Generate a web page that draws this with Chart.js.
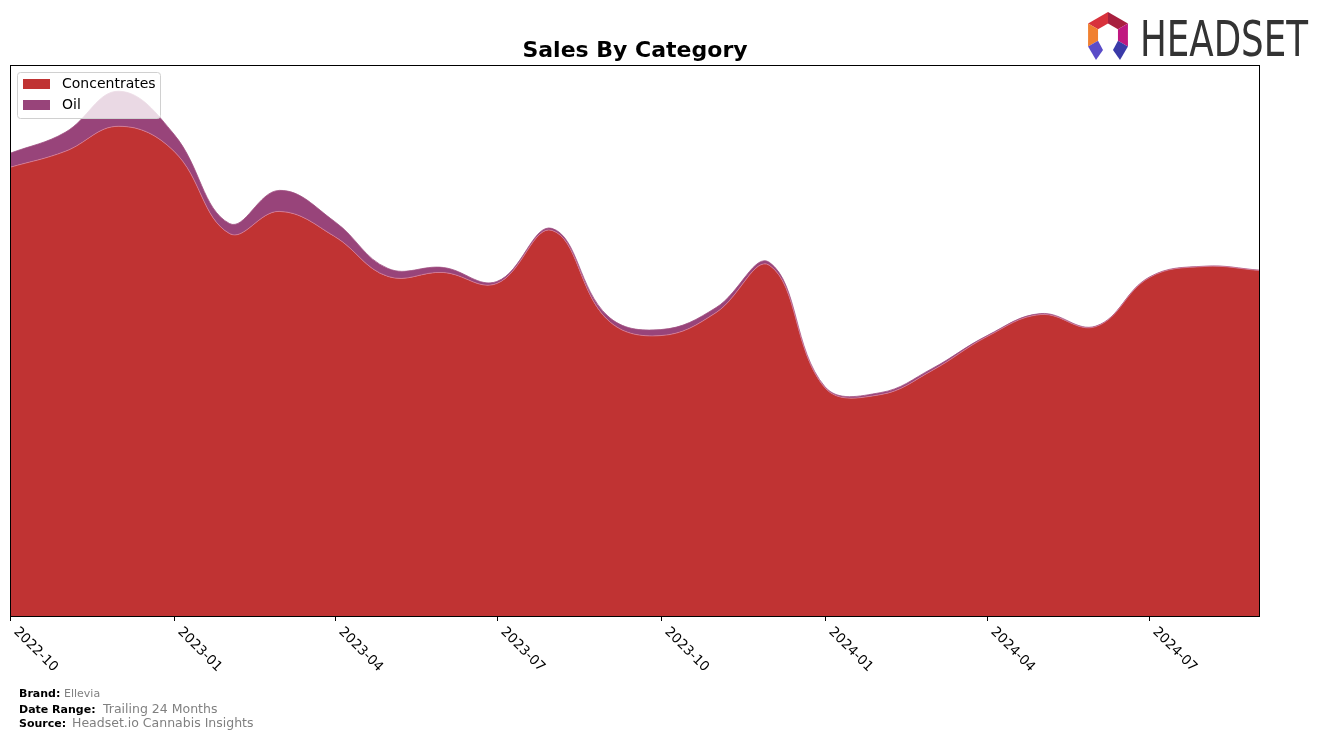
<!DOCTYPE html>
<html>
<head>
<meta charset="utf-8">
<script src="https://cdn.jsdelivr.net/npm/chart.js@4.4.1/dist/chart.umd.min.js"></script>
<style>
  html, body { margin: 0; padding: 0; background: #fff; }
  canvas { display: block; }
</style>
</head>
<body>
<canvas id="salesChart" width="1324" height="740"></canvas>
<script>
// monthly sales by category (arbitrary units)
const months = [
    '2022-10', '2022-11', '2022-12', '2023-01', '2023-02', '2023-03',
    '2023-04', '2023-05', '2023-06', '2023-07', '2023-08', '2023-09',
    '2023-10', '2023-11', '2023-12', '2024-01', '2024-02', '2024-03',
    '2024-04', '2024-05', '2024-06', '2024-07', '2024-08', '2024-09'
];
const concentrates = [448, 464, 489, 464, 382, 404, 379, 339, 343, 332, 385, 296,
                      280, 303, 350, 228, 221, 245, 279, 301, 289, 338, 349, 345];
const oil = [14, 19, 35, 17, 10, 21, 15, 8, 5, 2, 2, 4,
             6, 5, 3, 1, 2, 2, 1, 1, 0.5, 0.5, 0.3, 0.3];
const tickMonths = ['2022-10', '2023-01', '2023-04', '2023-07', '2023-10', '2024-01', '2024-04', '2024-07'];

const seriesNames = ['Concentrates', 'Oil'];
const seriesColors = ['#c03333', '#98447a'];

// x is days since the first month
function dayOf(m) {
    const [y, mo] = m.split('-').map(Number);
    const start = Date.UTC(2022, 9, 1);
    return (Date.UTC(y, mo - 1, 1) - start) / 86400000;
}

const totals = concentrates.map((v, i) => v + oil[i]);
const yMax = Math.max(...totals) * 1.05;

const decor = {
    id: 'decor',
    beforeDraw(chart) {
        const ctx = chart.ctx;
        ctx.save();
        ctx.fillStyle = '#fff';
        ctx.fillRect(0, 0, chart.width, chart.height);
        ctx.restore();
    },
    afterDatasetsDraw(chart) {
        const ctx = chart.ctx;
        const a = chart.chartArea;
        const xs = chart.scales.x;
        ctx.save();

        // frame
        ctx.strokeStyle = '#000';
        ctx.lineWidth = 1;
        ctx.strokeRect(a.left + 0.5, a.top + 0.5, a.right - a.left - 1, a.bottom - a.top);

        // x ticks + rotated labels
        ctx.font = '13.5px "DejaVu Sans"';
        ctx.fillStyle = '#000';
        ctx.textAlign = 'left';
        ctx.textBaseline = 'top';
        tickMonths.forEach(m => {
            const px = Math.round(xs.getPixelForValue(dayOf(m))) + 0.5;
            ctx.beginPath();
            ctx.moveTo(px, a.bottom);
            ctx.lineTo(px, a.bottom + 5);
            ctx.stroke();
            ctx.save();
            ctx.translate(px + 10, a.bottom + 9);
            ctx.rotate(Math.PI / 4);
            ctx.fillText(m, 0, 0);
            ctx.restore();
        });

        // legend
        const lx = 17, ly = 72, lw = 143, lh = 46;
        ctx.beginPath();
        ctx.roundRect(lx + 0.5, ly + 0.5, lw, lh, 3);
        ctx.fillStyle = 'rgba(255,255,255,0.8)';
        ctx.fill();
        ctx.strokeStyle = '#d0d0d0';
        ctx.stroke();
        ctx.font = '14px "DejaVu Sans"';
        ctx.textBaseline = 'middle';
        seriesNames.forEach((name, i) => {
            const yy = ly + 12 + i * 21;
            ctx.fillStyle = seriesColors[i];
            ctx.fillRect(lx + 6, yy - 5, 27, 10);
            ctx.fillStyle = '#000';
            ctx.fillText(name, lx + 45, yy);
        });

        // title
        ctx.font = 'bold 22px "DejaVu Sans"';
        ctx.textAlign = 'center';
        ctx.textBaseline = 'alphabetic';
        ctx.fillText('Sales By Category', 635, 57);

        // footer
        const footer = [
            ['Brand:', 'Ellevia', 697, 11, 64],
            ['Date Range:', 'Trailing 24 Months', 713, 12.5, 103],
            ['Source:', 'Headset.io Cannabis Insights', 727, 12.5, 72]
        ];
        ctx.textAlign = 'left';
        footer.forEach(([label, value, y, size, vx]) => {
            ctx.font = 'bold 11px "DejaVu Sans"';
            ctx.fillStyle = '#000';
            ctx.fillText(label, 19, y);
            ctx.font = size + 'px "DejaVu Sans"';
            ctx.fillStyle = '#808080';
            ctx.fillText(value, vx, y);
        });

        // logo
        drawLogo(ctx);
        ctx.restore();
    }
};

function drawLogo(ctx) {
    const cx = 1108, cy = 35, R = 23, r = 11.5;
    const pt = (ang, rad) => [cx + rad * Math.cos(ang * Math.PI / 180), cy + rad * Math.sin(ang * Math.PI / 180)];
    const segs = [
        [-90, -150, '#d8323c'],
        [-30, -90, '#a8203f'],
        [-150, 150, '#f08030'],
        [30, -30, '#c01880']
    ];
    segs.forEach(([a0, a1, col]) => {
        const p = [pt(a0, R), pt(a1, R), pt(a1, r), pt(a0, r)];
        ctx.beginPath();
        ctx.moveTo(p[0][0], p[0][1]);
        p.slice(1).forEach(q => ctx.lineTo(q[0], q[1]));
        ctx.closePath();
        ctx.fillStyle = col;
        ctx.fill();
    });
    // lower legs
    const legs = [
        [[pt(150, R), pt(150, r), [cx - 5, cy + 15], [cx - 12, cy + 25]], '#5a4cc8'],
        [[pt(30, R), pt(30, r), [cx + 5, cy + 15], [cx + 12, cy + 25]], '#3a3aa8']
    ];
    legs.forEach(([p, col]) => {
        ctx.beginPath();
        ctx.moveTo(p[0][0], p[0][1]);
        p.slice(1).forEach(q => ctx.lineTo(q[0], q[1]));
        ctx.closePath();
        ctx.fillStyle = col;
        ctx.fill();
    });
    // word mark
    ctx.save();
    ctx.font = '500 49px "Liberation Sans Narrow", "DejaVu Sans Condensed", sans-serif';
    const w = ctx.measureText('HEADSET').width;
    ctx.translate(1140, 56);
    ctx.scale(168 / w, 1);
    ctx.fillStyle = '#333';
    ctx.textAlign = 'left';
    ctx.textBaseline = 'alphabetic';
    ctx.fillText('HEADSET', 0, 0);
    ctx.restore();
}

const ctx = document.getElementById('salesChart').getContext('2d');
new Chart(ctx, {
    type: 'line',
    data: {
        datasets: [
            {
                label: seriesNames[0],
                data: months.map((m, i) => ({ x: dayOf(m), y: concentrates[i] })),
                backgroundColor: seriesColors[0],
                borderColor: 'rgba(215,130,160,0.9)',
                borderWidth: 0.8,
                fill: 'origin',
                tension: 0.4,
                pointRadius: 0
            },
            {
                label: seriesNames[1],
                data: months.map((m, i) => ({ x: dayOf(m), y: oil[i] })),
                backgroundColor: seriesColors[1],
                borderColor: 'rgba(160,80,130,1)',
                borderWidth: 0.8,
                fill: '-1',
                tension: 0.4,
                pointRadius: 0
            }
        ]
    },
    options: {
        responsive: false,
        animation: false,
        devicePixelRatio: 1,
        layout: {
            padding: { left: 10, right: 64, top: 65, bottom: 124 }
        },
        scales: {
            x: {
                type: 'linear',
                display: false,
                min: 0,
                max: dayOf(months[months.length - 1])
            },
            y: {
                display: false,
                stacked: true,
                min: 0,
                max: yMax
            }
        },
        plugins: {
            legend: { display: false },
            tooltip: { enabled: false },
            title: { display: false }
        }
    },
    plugins: [decor]
});
</script>
</body>
</html>
